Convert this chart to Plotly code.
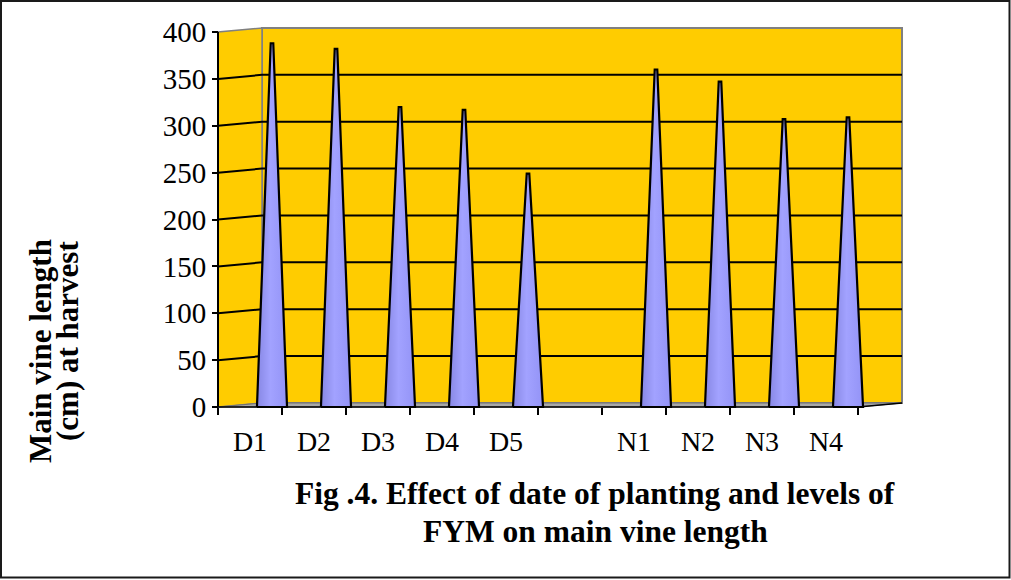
import plotly.graph_objects as go

# ---- data -------------------------------------------------------------
categories = ["D1", "D2", "D3", "D4", "D5", "", "N1", "N2", "N3", "N4"]
vine_length = [388, 382, 320, 317, 249, None, 360, 347, 307, 309]
y_ticks = [0, 50, 100, 150, 200, 250, 300, 350, 400]

# ---- page / scale geometry -------------------------------------------
W, H = 1011, 580
ML, MR, MT, MB = 208, 99, 18, 163
X_RANGE = (-1.0, 10.0)
Y_PX_PER_UNIT = 0.9375
Y_ZERO_PX = 407
Y_RANGE = (-(H - MB - Y_ZERO_PX) / Y_PX_PER_UNIT, (Y_ZERO_PX - MT) / Y_PX_PER_UNIT)

# pseudo-3D depth offsets (front plane -> back wall)
DEPTH_X = 0.6875
DEPTH_Y = 4.27
FRONT_L = -0.84375
BACK_L = FRONT_L + DEPTH_X
N = len(categories)
FRONT_R = FRONT_L + N
BACK_R = BACK_L + N
Y_TOP = y_ticks[-1]

CONE_BASE = 0.47
CONE_TIP = 0.04

FONT = "Liberation Serif, Times New Roman, serif"
YELLOW = "#FFCC00"
WALL_EDGE = "#808080"


def paper_x(px):
    return (px - ML) / (W - ML - MR)


def paper_y(py):
    return (H - MB - py) / (H - MT - MB)


fig = go.Figure()

shapes = []
# back wall
shapes.append(dict(type="rect", xref="x", yref="y", layer="below",
                   x0=BACK_L, x1=BACK_R, y0=DEPTH_Y, y1=Y_TOP + DEPTH_Y,
                   fillcolor=YELLOW, line=dict(color=WALL_EDGE, width=2)))
# left side wall
shapes.append(dict(type="path", xref="x", yref="y", layer="below",
                   path=f"M {FRONT_L},0 L {FRONT_L},{Y_TOP} L {BACK_L},{Y_TOP + DEPTH_Y} "
                        f"L {BACK_L},{DEPTH_Y} Z",
                   fillcolor=YELLOW, line=dict(color=WALL_EDGE, width=1.5)))
# floor
shapes.append(dict(type="path", xref="x", yref="y", layer="below",
                   path=f"M {FRONT_L},0 L {FRONT_R},0 L {BACK_R},{DEPTH_Y} "
                        f"L {BACK_L},{DEPTH_Y} Z",
                   fillcolor="#A8A8A8", line=dict(color="#707070", width=1)))
# gridlines wrapping side wall and back wall
for v in y_ticks[1:-1]:
    shapes.append(dict(type="path", xref="x", yref="y", layer="below",
                       path=f"M {FRONT_L},{v} L {BACK_L},{v + DEPTH_Y} L {BACK_R},{v + DEPTH_Y}",
                       line=dict(color="black", width=2)))
# front value axis line
shapes.append(dict(type="line", xref="x", yref="y", layer="below",
                   x0=FRONT_L, x1=FRONT_L, y0=0, y1=Y_TOP,
                   line=dict(color="black", width=2)))
# front floor edge and right slant
shapes.append(dict(type="path", xref="x", yref="y", layer="below",
                   path=f"M {FRONT_L},0 L {FRONT_R},0 L {BACK_R},{DEPTH_Y}",
                   line=dict(color="black", width=1.5)))
# outer frame
shapes.append(dict(type="rect", xref="paper", yref="paper",
                   x0=paper_x(1), x1=paper_x(1009.5), y0=paper_y(1), y1=paper_y(577.5),
                   line=dict(color="#1a1a1a", width=2)))

# cones, one per category (placed mid-depth)
for i, (cat, val) in enumerate(zip(categories, vine_length)):
    if val is None:
        continue
    cx = i
    xs = [cx - CONE_BASE / 2, cx - CONE_TIP / 2, cx + CONE_TIP / 2, cx + CONE_BASE / 2, cx - CONE_BASE / 2]
    ys = [0, val, val, 0, 0]
    fig.add_trace(go.Scatter(
        x=xs, y=ys, mode="lines", fill="toself", name=cat,
        line=dict(color="black", width=2.2),
        fillgradient=dict(type="horizontal",
                          colorscale=[[0, "#8787E4"], [0.45, "#A2A2FF"], [1, "#9393F6"]]),
        hoverinfo="skip", showlegend=False))

front_centres = [FRONT_L + 0.5 + i for i in range(N)]
boundaries = [FRONT_L + k for k in range(N + 1)]

fig.update_layout(
    width=W, height=H,
    margin=dict(l=ML, r=MR, t=MT, b=MB, pad=0),
    paper_bgcolor="white", plot_bgcolor="rgba(0,0,0,0)",
    shapes=shapes,
    showlegend=False,
    xaxis=dict(range=list(X_RANGE), showgrid=False, zeroline=False, showline=False,
               anchor="free", position=paper_y(Y_ZERO_PX),
               tickmode="array", tickvals=front_centres, ticktext=categories,
               ticks="", ticklabelstandoff=15,
               tickfont=dict(family=FONT, size=28, color="black"),
               minor=dict(tickmode="array", tickvals=boundaries, ticks="outside",
                          ticklen=7, tickwidth=1.5, tickcolor="black", showgrid=False)),
    yaxis=dict(range=list(Y_RANGE), showgrid=False, zeroline=False, showline=False,
               anchor="free", position=paper_x(218),
               tickmode="array", tickvals=y_ticks,
               ticks="outside", ticklen=6, tickwidth=1.5, tickcolor="black",
               tickfont=dict(family=FONT, size=29, color="black")),
    annotations=[
        dict(text="<b>Main vine length</b>", textangle=-90, showarrow=False,
             xref="paper", yref="paper", x=paper_x(40), y=paper_y(351),
             xanchor="center", yanchor="middle",
             font=dict(family=FONT, size=31, color="black")),
        dict(text="<b>(cm) at harvest</b>", textangle=-90, showarrow=False,
             xref="paper", yref="paper", x=paper_x(67), y=paper_y(341),
             xanchor="center", yanchor="middle",
             font=dict(family=FONT, size=31, color="black")),
        dict(text="<b>Fig .4. Effect of date of planting and levels of</b>", showarrow=False,
             xref="paper", yref="paper", x=paper_x(595), y=paper_y(493),
             xanchor="center", yanchor="middle",
             font=dict(family=FONT, size=31.5, color="black")),
        dict(text="<b>FYM on main vine length</b>", showarrow=False,
             xref="paper", yref="paper", x=paper_x(595), y=paper_y(531),
             xanchor="center", yanchor="middle",
             font=dict(family=FONT, size=31.5, color="black")),
    ],
)

fig.write_html("out.html")
